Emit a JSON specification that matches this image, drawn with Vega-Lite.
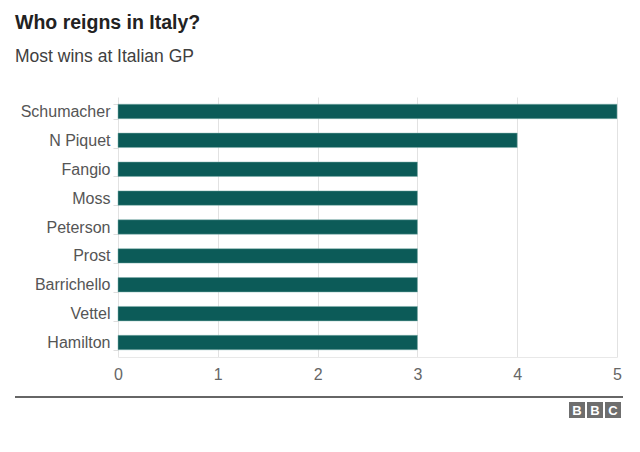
{
  "$schema": "https://vega.github.io/schema/vega-lite/v6.json",
  "autosize": {"type": "none"},
  "width": 499,
  "height": 260,
  "padding": {"left": 118, "top": 97, "right": 23, "bottom": 95},
  "background": "white",
  "config": {
    "font": "Liberation Sans",
    "view": {"stroke": null}
  },
  "title": {
    "text": "Who reigns in Italy?",
    "subtitle": "Most wins at Italian GP",
    "anchor": "start",
    "frame": "group",
    "dx": -103,
    "offset": 23,
    "fontSize": 19.5,
    "fontWeight": "bold",
    "color": "#222222",
    "subtitleFontSize": 17.5,
    "subtitleColor": "#404040",
    "subtitlePadding": 14
  },
  "layer": [
    {
      "data": {
        "values": [
          {"driver": "Schumacher", "wins": 5},
          {"driver": "N Piquet", "wins": 4},
          {"driver": "Fangio", "wins": 3},
          {"driver": "Moss", "wins": 3},
          {"driver": "Peterson", "wins": 3},
          {"driver": "Prost", "wins": 3},
          {"driver": "Barrichello", "wins": 3},
          {"driver": "Vettel", "wins": 3},
          {"driver": "Hamilton", "wins": 3}
        ]
      },
      "mark": {"type": "bar", "color": "#0c5b58", "stroke": "#7fb0ad", "strokeWidth": 0.5},
      "encoding": {
        "y": {
          "field": "driver",
          "type": "nominal",
          "sort": null,
          "title": null,
          "scale": {"paddingInner": 0.5, "paddingOuter": 0.25},
          "axis": {
            "domain": false,
            "grid": false,
            "tickBand": "extent",
            "tickColor": "#dddddd",
            "tickSize": 5,
            "labelFontSize": 16,
            "labelColor": "#555555",
            "labelPadding": 3
          }
        },
        "x": {
          "field": "wins",
          "type": "quantitative",
          "title": null,
          "scale": {"domain": [0, 5], "nice": false},
          "axis": {
            "values": [0, 1, 2, 3, 4, 5],
            "format": "d",
            "grid": true,
            "gridColor": "#e2e2e2",
            "domainColor": "#e8e8e8",
            "ticks": false,
            "labelFlush": false,
            "labelFontSize": 16,
            "labelColor": "#666666",
            "labelPadding": 9
          }
        }
      }
    },
    {
      "data": {"values": [{}]},
      "mark": {"type": "rule", "color": "#333333", "strokeWidth": 1.5},
      "encoding": {"x": {"value": -103}, "x2": {"value": 505}, "y": {"value": 300}}
    },
    {
      "data": {"values": [{}]},
      "mark": {"type": "point", "shape": "square", "filled": true, "size": 256, "color": "#6e6e6e", "opacity": 1},
      "encoding": {"x": {"value": 459}, "y": {"value": 313}}
    },
    {
      "data": {"values": [{}]},
      "mark": {"type": "point", "shape": "square", "filled": true, "size": 256, "color": "#6e6e6e", "opacity": 1},
      "encoding": {"x": {"value": 477}, "y": {"value": 313}}
    },
    {
      "data": {"values": [{}]},
      "mark": {"type": "point", "shape": "square", "filled": true, "size": 256, "color": "#6e6e6e", "opacity": 1},
      "encoding": {"x": {"value": 495}, "y": {"value": 313}}
    },
    {
      "data": {"values": [{}]},
      "mark": {"type": "text", "text": "B", "color": "white", "fontWeight": "bold", "fontSize": 13, "baseline": "middle", "align": "center"},
      "encoding": {"x": {"value": 459}, "y": {"value": 314}}
    },
    {
      "data": {"values": [{}]},
      "mark": {"type": "text", "text": "B", "color": "white", "fontWeight": "bold", "fontSize": 13, "baseline": "middle", "align": "center"},
      "encoding": {"x": {"value": 477}, "y": {"value": 314}}
    },
    {
      "data": {"values": [{}]},
      "mark": {"type": "text", "text": "C", "color": "white", "fontWeight": "bold", "fontSize": 13, "baseline": "middle", "align": "center"},
      "encoding": {"x": {"value": 495}, "y": {"value": 314}}
    }
  ]
}
